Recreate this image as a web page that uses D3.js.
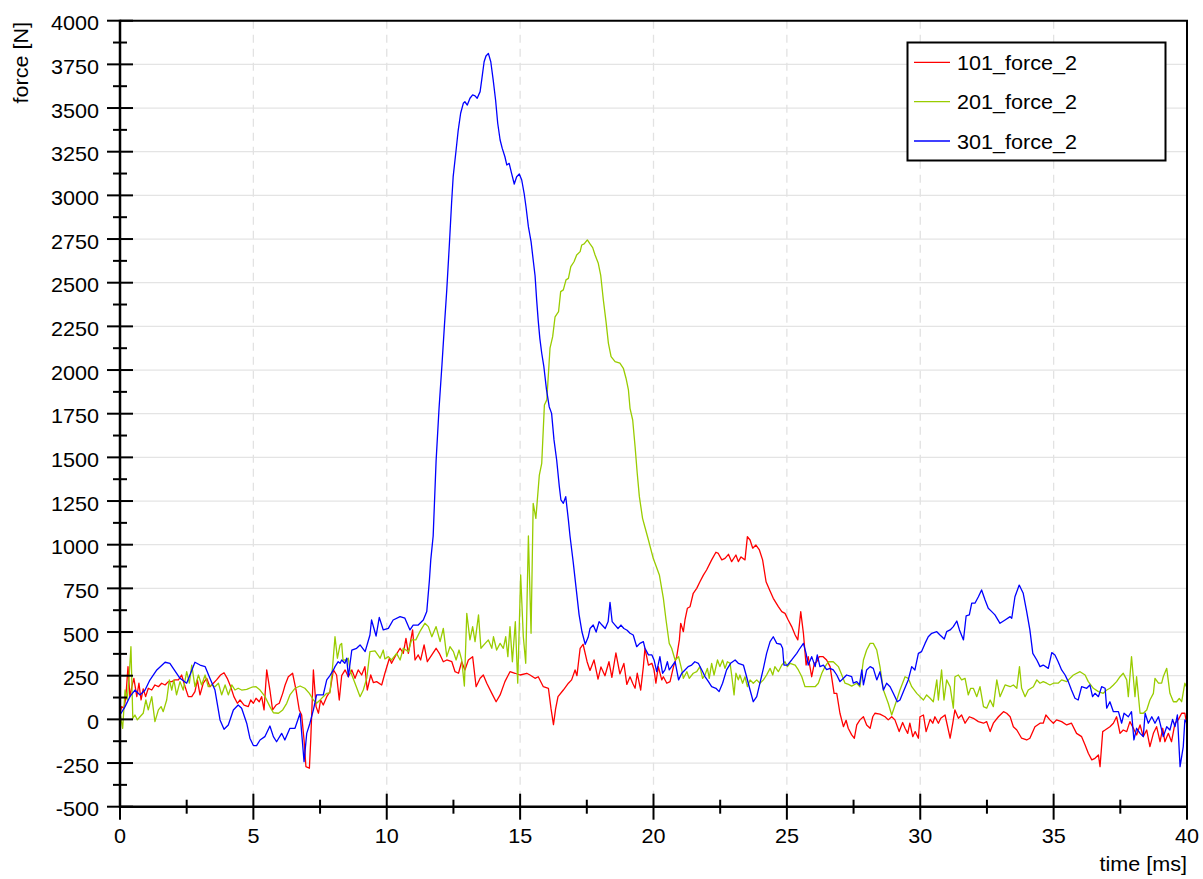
<!DOCTYPE html>
<html>
<head>
<meta charset="utf-8">
<script src="https://cdn.jsdelivr.net/npm/d3@7"></script>
<style>
  html, body { margin: 0; padding: 0; background: #fff; }
  svg { display: block; }
  text { font-family: "Liberation Sans", Arial, Helvetica, sans-serif; fill: #000; }
</style>
</head>
<body>
<svg id="chart" width="1203" height="879"></svg>
<script>
// Axis tick values
const xTicksMajor = [0, 5, 10, 15, 20, 25, 30, 35, 40];
const xTicksMinor = [2.5, 7.5, 12.5, 17.5, 22.5, 27.5, 32.5, 37.5];
const yTicksMajor = [-500, -250, 0, 250, 500, 750, 1000, 1250, 1500, 1750, 2000, 2250,
                     2500, 2750, 3000, 3250, 3500, 3750, 4000];
const yTicksMinor = [-375, -125, 125, 375, 625, 875, 1125, 1375, 1625, 1875, 2125, 2375,
                     2625, 2875, 3125, 3375, 3625, 3875];

const seriesNames = ["101_force_2", "201_force_2", "301_force_2"];
const seriesColors = ["#ff0000", "#99cc00", "#0000ff"];

// 101_force_2 : [time ms, force N]
const force101 = [
  [0.00,35],[0.06,73],[0.15,62],[0.22,130],[0.30,302],[0.37,130],[0.44,185],[0.52,235],[0.63,130],
  [0.71,207],[0.79,111],[0.87,175],[0.96,130],[1.06,178],[1.19,168],[1.31,197],[1.44,187],[1.56,207],
  [1.69,197],[1.81,216],[1.94,216],[2.06,226],[2.19,226],[2.31,254],[2.44,187],[2.56,130],[2.69,130],
  [2.81,159],[2.90,226],[3.00,140],[3.12,207],[3.25,235],[3.37,187],[3.50,207],[3.62,226],[3.77,254],
  [3.90,267],[4.02,235],[4.15,187],[4.27,130],[4.40,92],[4.50,111],[4.65,82],[4.81,73],[4.90,111],
  [5.00,92],[5.10,121],[5.22,101],[5.31,130],[5.40,54],[5.50,283],[5.62,168],[5.72,54],[5.85,82],
  [5.97,92],[6.10,149],[6.19,197],[6.31,244],[6.47,264],[6.60,168],[6.72,54],[6.81,25],[6.90,-118],
  [6.97,-271],[7.10,-280],[7.15,-118],[7.25,283],[7.35,73],[7.44,35],[7.52,111],[7.62,82],[7.75,130],
  [7.87,159],[8.00,283],[8.12,254],[8.22,111],[8.31,250],[8.44,283],[8.56,244],[8.69,283],[8.81,235],
  [8.93,283],[9.06,254],[9.18,302],[9.27,168],[9.40,254],[9.50,210],[9.62,216],[9.81,197],[9.93,264],
  [10.10,350],[10.18,321],[10.31,359],[10.50,407],[10.62,378],[10.72,464],[10.81,378],[10.97,512],
  [11.06,340],[11.18,369],[11.27,340],[11.40,426],[11.52,330],[11.69,369],[11.85,407],[11.97,378],
  [12.12,330],[12.25,340],[12.44,330],[12.56,273],[12.69,264],[12.81,330],[12.93,283],[13.06,340],
  [13.22,359],[13.35,187],[13.50,235],[13.62,254],[13.75,207],[13.94,149],[14.10,101],[14.25,140],
  [14.43,216],[14.62,273],[14.81,264],[15.00,254],[15.25,264],[15.37,254],[15.56,235],[15.68,244],
  [15.87,187],[16.06,178],[16.16,60],[16.25,-30],[16.33,60],[16.42,130],[16.62,168],[16.81,207],
  [16.93,226],[17.06,283],[17.13,250],[17.25,407],[17.36,430],[17.51,330],[17.62,280],[17.77,340],
  [17.92,230],[18.03,300],[18.18,250],[18.33,330],[18.44,240],[18.59,380],[18.74,260],[18.89,320],
  [19.00,200],[19.12,244],[19.22,207],[19.31,178],[19.39,264],[19.52,168],[19.62,302],[19.68,407],
  [19.81,311],[19.94,321],[20.02,283],[20.09,207],[20.18,302],[20.31,226],[20.37,244],[20.50,207],
  [20.62,216],[20.75,302],[20.87,359],[20.97,455],[21.02,550],[21.12,502],[21.18,569],[21.27,636],
  [21.37,645],[21.49,722],[21.62,750],[21.74,788],[21.87,826],[21.99,855],[22.18,913],[22.34,957],
  [22.43,950],[22.56,913],[22.68,922],[22.81,945],[22.93,903],[23.09,941],[23.18,903],[23.28,930],
  [23.43,913],[23.52,1046],[23.62,1027],[23.72,980],[23.84,998],[23.97,970],[24.09,913],[24.22,788],
  [24.34,745],[24.49,693],[24.68,645],[24.81,617],[24.93,607],[25.05,569],[25.18,531],[25.31,483],
  [25.41,455],[25.52,617],[25.62,493],[25.72,311],[25.80,359],[25.93,244],[26.03,321],[26.12,330],
  [26.21,359],[26.36,359],[26.49,340],[26.62,302],[26.77,149],[26.87,149],[26.99,35],[27.12,-42],
  [27.22,-5],[27.30,-51],[27.43,-89],[27.53,-108],[27.62,-32],[27.74,-3],[27.87,15],[27.99,-32],
  [28.12,-51],[28.22,15],[28.30,35],[28.49,30],[28.68,15],[28.80,-3],[28.93,15],[29.05,-3],[29.21,-70],
  [29.34,-18],[29.43,-51],[29.53,-80],[29.61,-22],[29.72,-99],[29.81,-70],[29.93,-108],[29.99,15],
  [30.12,25],[30.22,-70],[30.37,0],[30.47,-22],[30.55,15],[30.68,-22],[30.77,6],[30.93,25],[31.12,-108],
  [31.22,-22],[31.30,54],[31.43,6],[31.55,25],[31.68,-22],[31.84,15],[31.99,6],[32.18,-13],[32.37,-22],
  [32.49,-13],[32.62,-70],[32.74,-22],[32.93,15],[33.12,44],[33.24,35],[33.37,15],[33.49,-42],
  [33.62,-61],[33.80,-108],[33.99,-118],[34.11,-108],[34.30,-42],[34.49,-22],[34.61,-22],[34.71,25],
  [34.86,-3],[34.99,-22],[35.11,-3],[35.30,-13],[35.49,-32],[35.67,-22],[35.86,-80],[36.05,-99],
  [36.18,-147],[36.30,-194],[36.43,-232],[36.55,-223],[36.68,-204],[36.74,-271],[36.84,-70],[36.93,-61],
  [37.11,-42],[37.24,-22],[37.36,15],[37.49,-80],[37.61,-61],[37.74,-70],[37.86,-13],[37.99,-51],
  [38.11,-89],[38.24,-32],[38.36,-99],[38.49,-61],[38.61,-156],[38.74,-80],[38.86,-42],[38.99,-128],
  [39.09,-51],[39.17,-128],[39.30,-80],[39.42,-128],[39.55,-22],[39.67,-3],[39.80,35],[39.92,35],[40.00,-42]
];

// 201_force_2 : [time ms, force N]
const force201 = [
  [0.00,35],[0.10,-51],[0.19,168],[0.27,111],[0.35,264],[0.41,416],[0.48,6],[0.56,25],[0.65,-3],
  [0.75,15],[0.87,35],[0.97,111],[1.06,54],[1.19,130],[1.31,-13],[1.44,54],[1.54,73],[1.62,44],
  [1.75,111],[1.85,226],[1.94,168],[2.02,226],[2.12,140],[2.25,216],[2.37,168],[2.50,273],[2.60,207],
  [2.69,311],[2.81,187],[2.94,254],[3.06,197],[3.19,254],[3.31,187],[3.44,197],[3.56,187],[3.69,207],
  [3.81,140],[3.94,197],[4.06,140],[4.19,197],[4.31,168],[4.43,178],[4.56,168],[4.75,172],[4.94,184],
  [5.10,187],[5.25,168],[5.44,130],[5.62,73],[5.75,38],[5.94,35],[6.10,54],[6.25,92],[6.37,140],
  [6.56,178],[6.75,191],[6.93,178],[7.10,149],[7.25,111],[7.37,92],[7.50,111],[7.62,130],[7.75,149],
  [7.87,152],[7.97,302],[8.06,473],[8.15,350],[8.25,426],[8.31,435],[8.36,340],[8.50,340],[8.56,350],
  [8.62,283],[8.81,207],[9.00,130],[9.12,168],[9.25,235],[9.37,388],[9.56,392],[9.75,350],[9.87,397],
  [9.93,346],[10.06,359],[10.18,340],[10.37,378],[10.50,340],[10.62,407],[10.81,388],[10.93,455],
  [11.09,455],[11.24,502],[11.43,550],[11.56,531],[11.69,473],[11.85,531],[12.00,445],[12.12,521],
  [12.25,359],[12.37,416],[12.50,388],[12.60,340],[12.71,397],[12.81,340],[12.91,191],[13.00,607],
  [13.12,455],[13.22,531],[13.31,445],[13.44,598],[13.53,407],[13.69,435],[13.81,455],[13.94,407],
  [14.00,473],[14.12,397],[14.25,435],[14.37,407],[14.46,473],[14.54,359],[14.62,531],[14.71,330],
  [14.82,559],[14.91,207],[15.02,827],[15.12,473],[15.21,321],[15.31,1050],[15.41,493],[15.49,1237],
  [15.59,1151],[15.72,1399],[15.81,1466],[15.91,1800],[16.00,1829],[16.12,2125],[16.22,2191],
  [16.31,2305],[16.44,2334],[16.52,2449],[16.62,2459],[16.72,2516],[16.81,2525],[16.90,2592],
  [17.02,2620],[17.12,2659],[17.25,2678],[17.31,2716],[17.40,2722],[17.52,2745],[17.62,2722],
  [17.72,2701],[17.81,2659],[17.93,2611],[18.02,2544],[18.12,2401],[18.22,2277],[18.31,2153],
  [18.41,2077],[18.56,2048],[18.74,2039],[18.87,2010],[18.97,1953],[19.06,1886],[19.12,1781],
  [19.22,1714],[19.31,1561],[19.39,1409],[19.47,1275],[19.59,1151],[19.68,1100],[19.81,1027],
  [19.99,922],[20.22,827],[20.37,693],[20.47,569],[20.59,435],[20.68,407],[20.81,340],[20.94,359],
  [21.06,283],[21.12,235],[21.25,273],[21.34,235],[21.49,264],[21.62,273],[21.74,302],[21.84,235],
  [21.93,254],[22.02,292],[22.09,235],[22.18,321],[22.27,254],[22.40,340],[22.49,302],[22.59,340],
  [22.68,292],[22.77,330],[22.87,321],[22.93,254],[23.02,140],[23.09,264],[23.18,226],[23.24,254],
  [23.34,207],[23.43,244],[23.52,187],[23.62,226],[23.74,207],[23.87,226],[23.99,207],[24.12,226],
  [24.24,254],[24.37,292],[24.47,254],[24.55,302],[24.68,273],[24.81,311],[24.93,330],[25.02,302],
  [25.12,321],[25.31,311],[25.43,283],[25.56,244],[25.68,187],[25.87,187],[26.06,187],[26.18,207],
  [26.31,264],[26.43,302],[26.56,330],[26.74,330],[26.93,302],[27.06,254],[27.18,207],[27.31,200],
  [27.43,190],[27.62,207],[27.74,187],[27.87,340],[27.99,397],[28.12,435],[28.24,435],[28.37,397],
  [28.49,302],[28.62,168],[28.80,92],[28.93,25],[29.12,111],[29.24,168],[29.43,244],[29.55,235],
  [29.68,187],[29.87,149],[29.99,130],[30.12,111],[30.24,140],[30.37,121],[30.49,101],[30.62,226],
  [30.68,111],[30.80,283],[30.89,111],[30.99,226],[31.12,187],[31.24,64],[31.30,244],[31.43,254],
  [31.55,226],[31.68,235],[31.80,140],[31.89,178],[31.99,178],[32.12,130],[32.24,187],[32.37,73],
  [32.49,64],[32.62,111],[32.74,73],[32.87,226],[32.99,130],[33.18,197],[33.37,187],[33.49,197],
  [33.62,178],[33.72,302],[33.80,178],[33.93,130],[34.05,168],[34.24,187],[34.37,226],[34.49,207],
  [34.61,216],[34.74,207],[34.86,197],[34.99,207],[35.17,207],[35.30,226],[35.49,216],[35.74,254],
  [35.99,273],[36.18,254],[36.30,216],[36.49,178],[36.68,159],[36.86,149],[36.99,168],[37.11,178],
  [37.24,197],[37.36,216],[37.49,244],[37.61,264],[37.74,226],[37.80,130],[37.92,359],[38.05,130],
  [38.11,244],[38.24,35],[38.36,35],[38.49,54],[38.61,111],[38.74,149],[38.80,235],[38.93,207],
  [39.05,207],[39.11,244],[39.24,292],[39.36,149],[39.49,101],[39.61,101],[39.71,120],[39.80,101],
  [39.92,207],[40.00,180]
];

// 301_force_2 : [time ms, force N]
const force301 = [
  [0.00,25],[0.19,73],[0.37,130],[0.56,168],[0.75,140],[0.94,168],[1.12,225],[1.38,283],[1.69,327],
  [1.87,321],[2.25,235],[2.50,207],[2.81,327],[3.00,311],[3.19,302],[3.37,235],[3.56,168],[3.75,-3],
  [3.90,-57],[4.06,-32],[4.25,54],[4.43,82],[4.56,64],[4.75,-22],[4.87,-108],[5.00,-150],[5.12,-150],
  [5.25,-118],[5.43,-99],[5.62,-38],[5.75,-99],[5.87,-128],[6.06,-80],[6.18,-118],[6.37,-51],[6.56,-51],
  [6.75,35],[6.90,-242],[7.00,-80],[7.12,-22],[7.25,54],[7.37,140],[7.62,140],[7.75,226],[7.87,250],
  [8.00,283],[8.06,302],[8.18,330],[8.25,321],[8.31,340],[8.43,321],[8.50,350],[8.56,244],[8.69,397],
  [8.87,407],[9.00,426],[9.19,388],[9.37,483],[9.43,569],[9.60,477],[9.72,584],[9.87,512],[10.06,521],
  [10.24,569],[10.50,588],[10.68,579],[10.87,512],[10.99,540],[11.18,540],[11.37,569],[11.50,617],
  [11.60,798],[11.65,913],[11.74,1050],[11.85,1480],[11.96,1780],[12.07,2030],[12.16,2250],[12.25,2458],
  [12.35,2726],[12.43,2955],[12.49,3107],[12.60,3260],[12.68,3374],[12.77,3470],[12.87,3527],
  [12.93,3536],[13.02,3517],[13.12,3556],[13.22,3575],[13.31,3570],[13.39,3556],[13.50,3594],
  [13.56,3661],[13.65,3765],[13.72,3798],[13.81,3813],[13.90,3765],[13.99,3661],[14.08,3546],
  [14.16,3413],[14.25,3317],[14.33,3269],[14.43,3221],[14.50,3174],[14.59,3183],[14.68,3126],
  [14.78,3065],[14.87,3107],[14.97,3122],[15.06,3088],[15.15,3012],[15.22,2935],[15.31,2821],
  [15.41,2735],[15.49,2630],[15.56,2540],[15.62,2400],[15.68,2280],[15.74,2180],[15.81,2096],
  [15.89,2019],[15.99,1886],[16.09,1790],[16.18,1752],[16.27,1600],[16.37,1485],[16.47,1332],
  [16.53,1256],[16.62,1237],[16.71,1275],[16.81,1141],[16.87,1050],[16.99,900],[17.10,750],[17.21,600],
  [17.32,500],[17.44,430],[17.55,470],[17.62,520],[17.74,540],[17.85,500],[17.96,560],[18.07,540],
  [18.19,520],[18.30,560],[18.37,670],[18.45,560],[18.56,540],[18.67,520],[18.78,540],[18.89,520],
  [19.01,510],[19.12,493],[19.24,483],[19.37,416],[19.49,435],[19.62,445],[19.68,407],[19.81,369],
  [19.94,369],[20.02,340],[20.12,273],[20.24,359],[20.34,264],[20.43,283],[20.52,330],[20.59,283],
  [20.68,302],[20.81,330],[20.94,226],[21.06,264],[21.18,283],[21.30,302],[21.43,311],[21.55,330],
  [21.68,321],[21.81,283],[21.93,245],[22.06,216],[22.18,187],[22.34,178],[22.46,159],[22.59,207],
  [22.74,283],[22.89,321],[23.06,340],[23.18,321],[23.37,311],[23.49,244],[23.62,168],[23.74,101],
  [23.87,130],[23.99,207],[24.12,292],[24.24,378],[24.37,445],[24.49,473],[24.62,435],[24.77,430],
  [24.84,407],[24.89,311],[25.02,311],[25.18,340],[25.37,378],[25.49,407],[25.62,435],[25.72,378],
  [25.80,311],[25.93,359],[26.06,302],[26.14,369],[26.24,302],[26.37,311],[26.49,285],[26.62,292],
  [26.74,283],[26.87,254],[26.99,216],[27.12,235],[27.24,254],[27.43,245],[27.49,207],[27.62,216],
  [27.72,197],[27.81,283],[27.87,197],[27.99,283],[28.12,302],[28.24,292],[28.37,226],[28.49,273],
  [28.62,168],[28.74,207],[28.87,187],[28.99,149],[29.14,101],[29.24,111],[29.37,159],[29.55,226],
  [29.68,302],[29.80,283],[29.93,378],[30.05,388],[30.18,435],[30.30,473],[30.43,493],[30.62,502],
  [30.74,483],[30.90,460],[30.99,502],[31.12,512],[31.24,531],[31.37,563],[31.47,512],[31.62,455],
  [31.72,592],[31.84,598],[31.93,665],[32.05,665],[32.18,702],[32.30,741],[32.43,683],[32.55,636],
  [32.68,617],[32.80,598],[32.99,550],[33.18,569],[33.37,588],[33.43,579],[33.55,702],[33.71,769],
  [33.86,722],[33.99,617],[34.11,512],[34.22,378],[34.37,340],[34.49,302],[34.61,311],[34.80,292],
  [34.93,382],[35.05,369],[35.17,330],[35.30,283],[35.43,254],[35.55,216],[35.67,168],[35.80,121],
  [35.92,111],[36.05,187],[36.24,178],[36.36,197],[36.46,130],[36.55,149],[36.68,130],[36.80,187],
  [36.93,178],[36.99,64],[37.11,101],[37.24,44],[37.43,44],[37.55,-22],[37.64,35],[37.80,15],
  [37.92,44],[38.01,-118],[38.11,-51],[38.24,-80],[38.36,-99],[38.43,35],[38.55,-22],[38.68,15],
  [38.80,-22],[38.93,15],[38.99,-22],[39.11,-99],[39.24,-42],[39.36,-61],[39.46,0],[39.55,-42],
  [39.64,25],[39.74,-271],[39.86,-156],[39.92,-3],[40.00,-22]
];

const seriesData = [force101, force201, force301];

// ---------------------------------------------------------------------------
const svg = d3.select("#chart");
const plot = { left: 120, right: 1187, top: 20.7, bottom: 806.7 };

const x = d3.scaleLinear().domain([0, 40]).range([plot.left, plot.right]);
const y = d3.scaleLinear().domain([-500, 4000]).range([plot.bottom, plot.top]);

const FONT = 20;       // label font size
const STRETCH = 1.08;  // slightly wide glyphs

function label(g, px, py, txt, anchor, rotate) {
  const t = g.append("g")
    .attr("transform", `translate(${px},${py})` + (rotate ? ` rotate(${rotate})` : "") + ` scale(${STRETCH},1)`);
  t.append("text")
    .attr("font-size", FONT)
    .attr("text-anchor", anchor)
    .text(txt);
}

// Grid
const grid = svg.append("g");
grid.selectAll("line.h").data(yTicksMajor.filter(v => v > -500 && v < 4000)).join("line")
  .attr("x1", plot.left).attr("x2", plot.right)
  .attr("y1", d => y(d)).attr("y2", d => y(d))
  .attr("stroke", "#e4e4e4").attr("stroke-width", 1.3);
grid.selectAll("line.v").data(xTicksMajor.filter(v => v > 0 && v < 40)).join("line")
  .attr("x1", d => x(d)).attr("x2", d => x(d))
  .attr("y1", plot.top).attr("y2", plot.bottom)
  .attr("stroke", "#e2e2e2").attr("stroke-width", 1.3)
  .attr("stroke-dasharray", "8,6");

// Series lines
svg.append("clipPath").attr("id", "clip").append("rect")
  .attr("x", plot.left).attr("y", plot.top)
  .attr("width", plot.right - plot.left).attr("height", plot.bottom - plot.top);

const line = d3.line().x(d => x(d[0])).y(d => y(d[1]));
svg.append("g").attr("clip-path", "url(#clip)")
  .selectAll("path").data(seriesData).join("path")
  .attr("d", line)
  .attr("fill", "none")
  .attr("stroke", (d, i) => seriesColors[i])
  .attr("stroke-width", 1.3)
  .attr("stroke-linejoin", "round");

// Frame
const frame = svg.append("g").attr("stroke", "#000");
frame.append("line").attr("x1", plot.left).attr("x2", plot.right + 1)
  .attr("y1", plot.top).attr("y2", plot.top).attr("stroke-width", 2);
frame.append("line").attr("x1", plot.right).attr("x2", plot.right)
  .attr("y1", plot.top).attr("y2", plot.bottom).attr("stroke-width", 2);
frame.append("line").attr("x1", plot.left).attr("x2", plot.left)
  .attr("y1", plot.top - 1).attr("y2", plot.bottom + 1).attr("stroke-width", 2.5);
frame.append("line").attr("x1", plot.left - 1).attr("x2", plot.right + 1)
  .attr("y1", plot.bottom).attr("y2", plot.bottom).attr("stroke-width", 2.5);

// Y ticks
frame.selectAll("line.ym").data(yTicksMajor).join("line")
  .attr("x1", plot.left - 13).attr("x2", plot.left + 13)
  .attr("y1", d => y(d)).attr("y2", d => y(d)).attr("stroke-width", 2);
frame.selectAll("line.yn").data(yTicksMinor).join("line")
  .attr("x1", plot.left - 7).attr("x2", plot.left + 7)
  .attr("y1", d => y(d)).attr("y2", d => y(d)).attr("stroke-width", 2);

// X ticks
frame.selectAll("line.xm").data(xTicksMajor).join("line")
  .attr("x1", d => x(d)).attr("x2", d => x(d))
  .attr("y1", plot.bottom - 13).attr("y2", plot.bottom + 13).attr("stroke-width", 2);
frame.selectAll("line.xn").data(xTicksMinor).join("line")
  .attr("x1", d => x(d)).attr("x2", d => x(d))
  .attr("y1", plot.bottom - 7).attr("y2", plot.bottom + 7).attr("stroke-width", 2);

// Tick labels
const labels = svg.append("g");
yTicksMajor.forEach(v => label(labels, 99, y(v) + 9.5, String(v), "end"));
xTicksMajor.forEach(v => label(labels, x(v), 843, String(v), "middle"));

// Axis titles
label(labels, 28, 22, "force [N]", "end", -90);
label(labels, 1187, 871, "time [ms]", "end");

// Legend
const legend = svg.append("g");
legend.append("rect")
  .attr("x", 907.5).attr("y", 42.5).attr("width", 258).attr("height", 118)
  .attr("fill", "#fff").attr("stroke", "#000").attr("stroke-width", 2);
const legendRows = [62.3, 101.7, 141];
seriesNames.forEach((name, i) => {
  legend.append("line")
    .attr("x1", 914).attr("x2", 950)
    .attr("y1", legendRows[i]).attr("y2", legendRows[i])
    .attr("stroke", seriesColors[i]).attr("stroke-width", 1.3);
  label(legend, 957, legendRows[i] + 7.5, name, "start");
});
</script>
</body>
</html>
